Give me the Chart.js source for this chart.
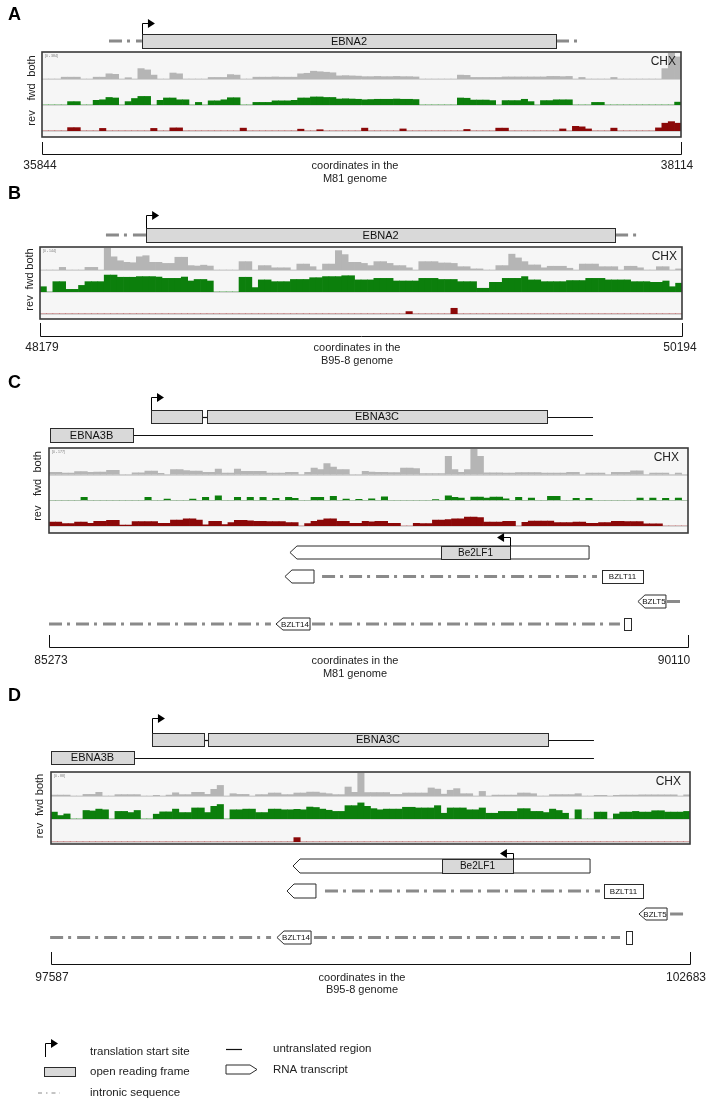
<!DOCTYPE html>
<html lang="en">
<head>
  <meta charset="UTF-8" />
  <title>EBNA2 / EBNA3C ribosome coverage</title>
  <script src="https://cdn.jsdelivr.net/npm/chart.js"></script>
  <style>
    * { box-sizing: border-box; margin: 0; padding: 0; }
    body { background: #fff; }
    #page { position: relative; width: 706px; height: 1101px; overflow: hidden; }
    #page canvas { position: absolute; left: 0; }
  </style>
</head>
<body>
  <div id="page">
    <canvas id="panelA" width="706" height="186" style="top:0px"></canvas>
    <canvas id="panelB" width="706" height="184" style="top:186px"></canvas>
    <canvas id="panelC" width="706" height="314" style="top:370px"></canvas>
    <canvas id="panelD" width="706" height="336" style="top:684px"></canvas>
    <canvas id="legend" width="706" height="81" style="top:1020px"></canvas>
  </div>

  <script>
    // ---- data: genome windows and binned coverage (100 bins, % of track height) ----
    const rangeA = [35844, 38114];
    const rangeB = [48179, 50194];
    const rangeC = [85273, 90110];
    const rangeD = [97587, 102683];

    const bothA = [0,0,0,7,7,7,0,0,7,7, 20,18,0,5,0,40,35,15,0,0, 23,20,0,0,0,0,6,6,6,17, 15,0,0,7,7,7,8,7,7,7,
      20,22,30,28,26,24,12,13,12,11, 9,9,10,9,9,10,9,9,8,0, 0,0,0,0,0,15,14,6,6,6, 6,6,8,8,8,8,8,8,8,10,
      10,9,10,0,6,0,0,0,0,6, 0,0,0,0,0,0,0,40,100,85];
    const fwdA = [0,0,0,0,13,13,0,0,18,20, 29,27,0,13,25,33,33,0,18,27, 27,20,20,0,10,0,16,16,20,28, 28,0,0,10,10,10,16,16,16,18,
      27,27,31,31,29,29,23,24,23,22, 20,21,22,22,22,23,22,22,21,0, 0,0,0,0,0,27,26,19,19,19, 17,0,17,17,17,22,13,0,17,17,
      20,20,20,0,0,0,10,10,0,0, 0,0,0,0,0,0,0,0,0,11];
    const revA = [0,0,0,0,13,13,0,0,0,10, 0,0,0,0,0,0,0,10,0,0, 12,12,0,0,0,0,0,0,0,0, 0,11,0,0,0,0,0,0,0,0,
      7,0,0,5,0,0,0,0,0,0, 11,0,0,0,0,0,8,0,0,0, 0,0,0,0,0,0,6,0,0,0, 0,11,11,0,0,0,0,0,0,0,
      0,8,0,18,16,8,0,0,0,11, 0,0,0,0,0,0,12,30,36,30];

    const bothB = [0,0,0,12,0,0,0,12,12,0, 100,60,42,35,33,60,65,35,35,30, 30,58,58,20,18,22,18,0,0,0, 0,38,38,0,20,20,10,10,10,0,
      27,27,15,0,27,27,88,70,35,35, 30,20,38,38,30,20,20,10,0,38, 38,38,32,32,30,15,15,5,5,0, 0,20,20,72,55,38,23,23,10,17,
      17,17,8,0,27,27,27,15,15,15, 0,17,17,10,0,0,15,15,0,5];
    const fwdB = [24,0,47,47,12,12,30,47,47,47, 77,77,67,67,67,70,70,70,68,62, 62,62,68,50,57,57,50,0,0,0, 0,67,67,20,55,55,47,47,47,57,
      57,57,65,65,70,70,70,74,74,55, 55,55,62,62,62,50,50,50,50,62, 62,62,57,57,57,47,47,47,17,17, 44,44,62,62,62,70,55,55,47,47,
      47,47,52,52,52,62,62,62,55,55, 55,55,47,47,47,44,44,50,24,40];
    const revB = [0,0,0,0,0,0,0,0,0,0, 0,0,0,0,0,0,0,0,0,0, 0,0,0,0,0,0,0,0,0,0, 0,0,0,0,0,0,0,0,0,0,
      0,0,0,0,0,0,0,0,0,0, 0,0,0,0,0,0,0,11,0,0, 0,0,0,0,26,0,0,0,0,0, 0,0,0,0,0,0,0,0,0,0,
      0,0,0,0,0,0,0,0,0,0, 0,0,0,0,0,0,0,0,0,0];

    const bothC = [9,9,6,6,12,12,9,10,10,17, 17,0,0,7,7,14,14,5,0,20, 20,16,14,14,9,9,22,6,6,22, 13,13,13,13,6,6,6,9,9,0,
      9,26,20,43,30,20,20,0,0,13, 10,9,9,8,8,26,26,24,4,4, 4,4,71,20,9,20,100,71,7,7, 7,6,6,8,8,8,8,6,6,6,
      6,9,9,0,6,6,6,0,9,9, 9,15,15,0,6,6,6,0,6,0];
    const fwdC = [0,0,0,0,0,12,0,0,0,0, 0,0,0,0,0,12,0,0,5,0, 0,0,5,0,12,0,18,0,0,12, 0,12,0,12,0,8,0,12,8,0,
      0,12,12,0,16,0,5,0,4,0, 6,0,14,0,0,0,0,0,0,0, 3,0,18,12,9,0,13,13,9,13, 13,6,0,12,0,9,0,0,16,16,
      0,0,8,0,8,0,0,0,0,0, 0,0,9,0,9,0,8,0,9,0];
    const revC = [15,15,9,9,15,15,10,18,18,22, 22,4,4,17,17,17,17,10,10,23, 23,28,28,23,5,18,18,6,13,22, 22,20,18,18,17,17,17,13,13,0,
      9,18,23,28,28,18,18,10,10,18, 16,18,18,10,10,0,0,10,9,9, 23,23,25,28,28,35,35,33,15,15, 15,18,18,0,14,19,19,19,19,13,
      13,13,15,15,10,10,13,13,18,18, 17,17,17,8,8,8,0,0,0,0];

    const bothD = [4,4,4,0,0,7,7,16,0,0, 6,6,6,6,0,0,3,0,4,14, 6,6,16,16,7,29,46,0,10,7, 7,0,6,6,13,13,6,6,13,13,
      17,17,13,10,6,6,39,16,100,15, 15,15,15,7,7,13,13,13,13,35, 30,8,25,32,10,10,0,20,0,4, 4,4,4,13,13,10,0,0,6,6,
      6,6,10,0,0,3,3,0,3,4, 4,4,5,5,5,5,5,5,0,5];
    const fwdD = [30,15,22,0,0,37,35,43,40,0, 33,33,28,37,0,0,21,31,31,43, 28,28,48,48,28,55,63,0,40,40, 43,43,28,28,43,43,40,40,42,40,
      52,50,43,38,33,33,58,58,70,55, 45,40,43,43,43,51,51,48,48,48, 58,25,48,48,48,40,40,48,25,25, 33,33,33,45,45,33,33,28,43,37,
      25,0,40,0,0,30,30,0,22,30, 30,33,30,30,36,36,30,30,30,33];
    const revD = [0,0,0,0,0,0,0,0,0,0, 0,0,0,0,0,0,0,0,0,0, 0,0,0,0,0,0,0,0,0,0, 0,0,0,0,0,0,0,0,19,0,
      0,0,0,0,0,0,0,0,0,0, 0,0,0,0,0,0,0,0,0,0, 0,0,0,0,0,0,0,0,0,0, 0,0,0,0,0,0,0,0,0,0,
      0,0,0,0,0,0,0,0,0,0, 0,0,0,0,0,0,0,0,0,0];

    // ---- data: genome annotation (genomic coordinates) ----
    const featsA = [
      {row: 'gene', kind: 'intron', from: 36082, to: 36199},
      {row: 'gene', kind: 'intron', from: 37670, to: 37752},
      {row: 'gene', kind: 'orf', from: 36199, to: 37670, label: 'EBNA2'},
      {row: 'gene', kind: 'start', at: 36199, dir: 1}
    ];
    const featsB = [
      {row: 'gene', kind: 'intron', from: 48386, to: 48512},
      {row: 'gene', kind: 'intron', from: 49984, to: 50053},
      {row: 'gene', kind: 'orf', from: 48512, to: 49984, label: 'EBNA2'},
      {row: 'gene', kind: 'start', at: 48512, dir: 1}
    ];
    const featsC = [
      {row: 'ebna3c', kind: 'utr', from: 86431, to: 86469},
      {row: 'ebna3c', kind: 'utr', from: 89043, to: 89391},
      {row: 'ebna3c', kind: 'orf', from: 86045, to: 86431},
      {row: 'ebna3c', kind: 'orf', from: 86469, to: 89043, label: 'EBNA3C'},
      {row: 'ebna3c', kind: 'start', at: 86045, dir: 1},
      {row: 'ebna3b', kind: 'utr', from: 85909, to: 89391},
      {row: 'ebna3b', kind: 'orf', from: 85281, to: 85909, label: 'EBNA3B'},
      {row: 'be2lf1', kind: 'rna', from: 87097, to: 89361},
      {row: 'be2lf1', kind: 'orf', from: 88240, to: 88763, label: 'Be2LF1'},
      {row: 'be2lf1', kind: 'start', at: 88763, dir: -1},
      {row: 'bzlt11', kind: 'rna', from: 87059, to: 87279},
      {row: 'bzlt11', kind: 'intron', from: 87340, to: 89421},
      {row: 'bzlt11', kind: 'box', from: 89459, to: 89769, label: 'BZLT11'},
      {row: 'bzlt5', kind: 'rna', from: 89731, to: 89943, label: 'BZLT5'},
      {row: 'bzlt5', kind: 'intron', from: 89951, to: 90080},
      {row: 'bzlt14', kind: 'intron', from: 85273, to: 86953},
      {row: 'bzlt14', kind: 'rna', from: 86991, to: 87249, label: 'BZLT14'},
      {row: 'bzlt14', kind: 'intron', from: 87264, to: 89595},
      {row: 'bzlt14', kind: 'box', from: 89626, to: 89679}
    ];
    const featsD = [
      {row: 'ebna3c', kind: 'utr', from: 98807, to: 98839},
      {row: 'ebna3c', kind: 'utr', from: 101551, to: 101917},
      {row: 'ebna3c', kind: 'orf', from: 98392, to: 98807},
      {row: 'ebna3c', kind: 'orf', from: 98839, to: 101551, label: 'EBNA3C'},
      {row: 'ebna3c', kind: 'start', at: 98392, dir: 1},
      {row: 'ebna3b', kind: 'utr', from: 98249, to: 101917},
      {row: 'ebna3b', kind: 'orf', from: 97587, to: 98249, label: 'EBNA3B'},
      {row: 'be2lf1', kind: 'rna', from: 99517, to: 101886},
      {row: 'be2lf1', kind: 'orf', from: 100705, to: 101271, label: 'Be2LF1'},
      {row: 'be2lf1', kind: 'start', at: 101271, dir: -1},
      {row: 'bzlt11', kind: 'rna', from: 99469, to: 99700},
      {row: 'bzlt11', kind: 'intron', from: 99772, to: 101965},
      {row: 'bzlt11', kind: 'box', from: 101997, to: 102308, label: 'BZLT11'},
      {row: 'bzlt5', kind: 'rna', from: 102276, to: 102500, label: 'BZLT5'},
      {row: 'bzlt5', kind: 'intron', from: 102524, to: 102635},
      {row: 'bzlt14', kind: 'intron', from: 97580, to: 99342},
      {row: 'bzlt14', kind: 'rna', from: 99389, to: 99661, label: 'BZLT14'},
      {row: 'bzlt14', kind: 'intron', from: 99684, to: 102125},
      {row: 'bzlt14', kind: 'box', from: 102173, to: 102220}
    ];

    const trackNames = ['both', 'fwd', 'rev'];
    const FONT = "'Liberation Sans', Arial, sans-serif";
    const COLORS = {both: '#b5b5b5', fwd: '#0c7f0c', rev: '#8b0808'};

    // ---- layout (canvas-local pixels) ----
    const panels = [
      {id: 'panelA', letter: 'A', letterY: 15, range: rangeA, tracks: [bothA, fwdA, revA], feats: featsA,
        scaleText: '[0 - 384]', frame: {left: 42, right: 681, top: 52, bottom: 137}, tracksTop: 53, tracksBottom: 131,
        labelX: 32, chxInset: 5, bracket: {top: 142, y: 154}, textY: [166, 179], startX: 40, endX: 677, midX: 355,
        genome: 'M81 genome', rows: {gene: {top: 34, h: 14, arrow: 11, font: 11}}},
      {id: 'panelB', letter: 'B', letterY: 8, range: rangeB, tracks: [bothB, fwdB, revB], feats: featsB,
        scaleText: '[0 - 144]', frame: {left: 40, right: 682, top: 61, bottom: 133}, tracksTop: 62, tracksBottom: 128,
        labelX: 30, chxInset: 5, bracket: {top: 137, y: 150}, textY: [162, 175], startX: 42, endX: 680, midX: 357,
        genome: 'B95-8 genome', rows: {gene: {top: 42, h: 14, arrow: 13, font: 11}}},
      {id: 'panelC', letter: 'C', letterY: 13, range: rangeC, tracks: [bothC, fwdC, revC], feats: featsC,
        scaleText: '[0 - 177]', frame: {left: 49, right: 688, top: 78, bottom: 163}, tracksTop: 79, tracksBottom: 156,
        labelX: 38, chxInset: 9, bracket: {top: 265, y: 277}, textY: [291, 304], startX: 51, endX: 674, midX: 355,
        genome: 'M81 genome',
        rows: {ebna3c: {top: 40, h: 13, arrow: 13, font: 11}, ebna3b: {top: 58, h: 14, font: 11},
          be2lf1: {top: 176, h: 13, arrow: 9, font: 10}, bzlt11: {top: 200, h: 13, font: 8},
          bzlt5: {top: 225, h: 13, font: 8}, bzlt14: {top: 248, h: 12, font: 8}}},
      {id: 'panelD', letter: 'D', letterY: 12, range: rangeD, tracks: [bothD, fwdD, revD], feats: featsD,
        scaleText: '[0 - 88]', frame: {left: 51, right: 690, top: 88, bottom: 160}, tracksTop: 89, tracksBottom: 158,
        labelX: 40, chxInset: 9, bracket: {top: 268, y: 280}, textY: [294, 306], startX: 52, endX: 686, midX: 362,
        genome: 'B95-8 genome',
        rows: {ebna3c: {top: 49, h: 13, arrow: 15, font: 11}, ebna3b: {top: 67, h: 13, font: 11},
          be2lf1: {top: 175, h: 14, arrow: 6, font: 10}, bzlt11: {top: 200, h: 14, font: 8},
          bzlt5: {top: 224, h: 12, font: 8}, bzlt14: {top: 247, h: 13, font: 8}}}
    ];

    // ---- drawing helpers ----
    function crisp(v) { return Math.round(v) + 0.5; }

    function drawIntron(ctx, x0, x1, y, width, dash) {
      ctx.save();
      ctx.strokeStyle = '#8a8a8a';
      ctx.lineWidth = width || 3;
      ctx.setLineDash(dash || [13, 5, 3, 6]);
      ctx.beginPath();
      ctx.moveTo(x0, y);
      ctx.lineTo(x1, y);
      ctx.stroke();
      ctx.restore();
    }

    function drawLine(ctx, x0, x1, y) {
      ctx.save();
      ctx.strokeStyle = '#111';
      ctx.lineWidth = 1.2;
      ctx.beginPath();
      ctx.moveTo(x0, y);
      ctx.lineTo(x1, y);
      ctx.stroke();
      ctx.restore();
    }

    function drawBox(ctx, x0, x1, top, h, fill) {
      ctx.save();
      ctx.fillStyle = fill;
      ctx.fillRect(x0, top, x1 - x0, h);
      ctx.strokeStyle = '#2b2b2b';
      ctx.lineWidth = 1;
      ctx.strokeRect(crisp(x0), crisp(top), Math.round(x1 - x0), Math.round(h));
      ctx.restore();
    }

    function drawPentagon(ctx, x0, x1, top, h, dir) {
      const tip = 7, mid = top + h / 2;
      ctx.save();
      ctx.beginPath();
      if (dir < 0) {
        ctx.moveTo(x0, mid); ctx.lineTo(x0 + tip, top); ctx.lineTo(x1, top);
        ctx.lineTo(x1, top + h); ctx.lineTo(x0 + tip, top + h);
      } else {
        ctx.moveTo(x0, top); ctx.lineTo(x1 - tip, top); ctx.lineTo(x1, mid);
        ctx.lineTo(x1 - tip, top + h); ctx.lineTo(x0, top + h);
      }
      ctx.closePath();
      ctx.fillStyle = '#fff';
      ctx.fill();
      ctx.strokeStyle = '#2b2b2b';
      ctx.lineWidth = 1;
      ctx.stroke();
      ctx.restore();
    }

    function drawStart(ctx, x, yTop, h, dir) {
      const yA = yTop - h;
      ctx.save();
      ctx.strokeStyle = '#000';
      ctx.fillStyle = '#000';
      ctx.lineWidth = 1;
      ctx.beginPath();
      ctx.moveTo(crisp(x), yTop);
      ctx.lineTo(crisp(x), crisp(yA));
      ctx.lineTo(x + dir * 7, crisp(yA));
      ctx.stroke();
      ctx.beginPath();
      ctx.moveTo(x + dir * 6, yA - 4);
      ctx.lineTo(x + dir * 13, yA + 0.5);
      ctx.lineTo(x + dir * 6, yA + 5);
      ctx.closePath();
      ctx.fill();
      ctx.restore();
    }

    function text(ctx, str, x, y, size, align, weight) {
      ctx.font = (weight || '') + ' ' + size + 'px ' + FONT;
      ctx.textAlign = align || 'center';
      ctx.textBaseline = 'middle';
      ctx.fillText(str, x, y);
    }

    const KIND_ORDER = ['intron', 'utr', 'rna', 'box', 'orf', 'start'];

    function drawFeatures(chart, p) {
      const ctx = chart.ctx;
      const xs = chart.scales.x;
      ctx.fillStyle = '#111';
      for (const kind of KIND_ORDER) {
        for (const f of p.feats.filter(d => d.kind === kind)) {
          const r = p.rows[f.row];
          const mid = r.top + r.h / 2;
          if (kind === 'start') {
            drawStart(ctx, xs.getPixelForValue(f.at), r.top, r.arrow, f.dir);
            continue;
          }
          const x0 = xs.getPixelForValue(f.from), x1 = xs.getPixelForValue(f.to);
          if (kind === 'intron') drawIntron(ctx, x0, x1, mid);
          else if (kind === 'utr') drawLine(ctx, x0, x1, crisp(mid));
          else if (kind === 'rna') drawPentagon(ctx, x0, x1, r.top, r.h, -1);
          else if (kind === 'box') drawBox(ctx, x0, x1, r.top, r.h, '#fff');
          else if (kind === 'orf') drawBox(ctx, x0, x1, r.top, r.h, '#d9d9d9');
          if (f.label) {
            ctx.fillStyle = '#111';
            const cx = kind === 'rna' ? (x0 + 4 + x1) / 2 : (x0 + x1) / 2;
            text(ctx, f.label, cx, mid + 0.5, r.font);
          }
        }
      }
    }

    function makePlugin(p) {
      return {
        id: 'igv' + p.letter,
        beforeDatasetsDraw(chart) {
          const ctx = chart.ctx, f = p.frame, a = chart.chartArea;
          ctx.save();
          ctx.fillStyle = '#f6f6f6';
          ctx.fillRect(f.left, f.top, f.right - f.left, f.bottom - f.top);
          ctx.strokeStyle = '#d3d3d3';
          ctx.lineWidth = 1;
          for (const id of ['yBoth', 'yFwd', 'yRev']) {
            const y = crisp(chart.scales[id].bottom);
            ctx.beginPath();
            ctx.moveTo(a.left, y);
            ctx.lineTo(a.right, y);
            ctx.stroke();
          }
          ctx.restore();
        },
        afterDraw(chart) {
          const ctx = chart.ctx, f = p.frame;
          ctx.save();
          // frame
          ctx.strokeStyle = '#3a3a3a';
          ctx.lineWidth = 1.6;
          ctx.strokeRect(f.left, f.top, f.right - f.left, f.bottom - f.top);
          // track names
          ctx.fillStyle = '#222';
          ['yBoth', 'yFwd', 'yRev'].forEach((id, i) => {
            const s = chart.scales[id];
            ctx.save();
            ctx.translate(p.labelX, (s.top + s.bottom) / 2);
            ctx.rotate(-Math.PI / 2);
            text(ctx, trackNames[i], 0, 0, 11);
            ctx.restore();
          });
          text(ctx, 'CHX', f.right - p.chxInset, f.top + 10, 12, 'right');
          ctx.fillStyle = '#777';
          text(ctx, p.scaleText, f.left + 3, f.top + 4, 3.5, 'left');
          // annotation rows
          drawFeatures(chart, p);
          // coordinate bracket
          ctx.strokeStyle = '#111';
          ctx.lineWidth = 1;
          ctx.beginPath();
          ctx.moveTo(crisp(f.left), p.bracket.top);
          ctx.lineTo(crisp(f.left), crisp(p.bracket.y));
          ctx.lineTo(crisp(f.right), crisp(p.bracket.y));
          ctx.lineTo(crisp(f.right), p.bracket.top);
          ctx.stroke();
          ctx.fillStyle = '#222';
          text(ctx, String(p.range[0]), p.startX, p.textY[0], 12);
          text(ctx, String(p.range[1]), p.endX, p.textY[0], 12);
          text(ctx, 'coordinates in the', p.midX, p.textY[0], 11);
          text(ctx, p.genome, p.midX, p.textY[1], 11);
          ctx.fillStyle = '#000';
          text(ctx, p.letter, 8, p.letterY, 18, 'left', 'bold');
          ctx.restore();
        }
      };
    }

    function binCenters(range, n) {
      const w = (range[1] - range[0]) / n;
      return Array.from({length: n}, (_, i) => range[0] + (i + 0.5) * w);
    }

    function trackAxis() {
      return {type: 'linear', position: 'left', stack: 'igv', stackWeight: 1, min: 0, max: 100, display: false};
    }

    function buildPanel(p) {
      const canvas = document.getElementById(p.id);
      const centers = binCenters(p.range, p.tracks[0].length);
      const axes = ['yBoth', 'yFwd', 'yRev'];
      const datasets = p.tracks.map((vals, i) => ({
        label: trackNames[i],
        data: vals.map((v, j) => ({x: centers[j], y: v})),
        yAxisID: axes[i],
        backgroundColor: COLORS[trackNames[i]],
        borderWidth: 0,
        grouped: false,
        barPercentage: 1,
        categoryPercentage: 1
      }));
      return new Chart(canvas.getContext('2d'), {
        type: 'bar',
        data: {datasets},
        options: {
          responsive: false,
          animation: false,
          layout: {
            padding: {
              left: p.frame.left,
              right: canvas.width - p.frame.right,
              top: p.tracksTop,
              bottom: canvas.height - p.tracksBottom
            }
          },
          plugins: {legend: {display: false}, tooltip: {enabled: false}},
          scales: {
            x: {type: 'linear', min: p.range[0], max: p.range[1], display: false, offset: false},
            // stacked left axes are placed bottom-up, so the lowest track comes first
            yRev: trackAxis(),
            yFwd: trackAxis(),
            yBoth: trackAxis()
          }
        },
        plugins: [makePlugin(p)]
      });
    }

    function drawLegend() {
      const ctx = document.getElementById('legend').getContext('2d');
      ctx.fillStyle = '#222';
      drawStart(ctx, 45, 37, 14, 1);
      text(ctx, 'translation start site', 90, 32, 11.5, 'left');
      drawBox(ctx, 44, 75, 47, 9, '#d9d9d9');
      ctx.fillStyle = '#222';
      text(ctx, 'open reading frame', 90, 52, 11.5, 'left');
      drawIntron(ctx, 38, 60, 73, 1, [4, 4, 1.5, 4]);
      text(ctx, 'intronic sequence', 90, 73, 11.5, 'left');
      drawLine(ctx, 226, 242, 29.5);
      text(ctx, 'untranslated region', 273, 29, 11.5, 'left');
      drawPentagon(ctx, 226, 257, 45, 9, 1);
      ctx.fillStyle = '#222';
      text(ctx, 'RNA transcript', 273, 50, 11.5, 'left');
    }

    panels.forEach(buildPanel);
    drawLegend();
  </script>
</body>
</html>
